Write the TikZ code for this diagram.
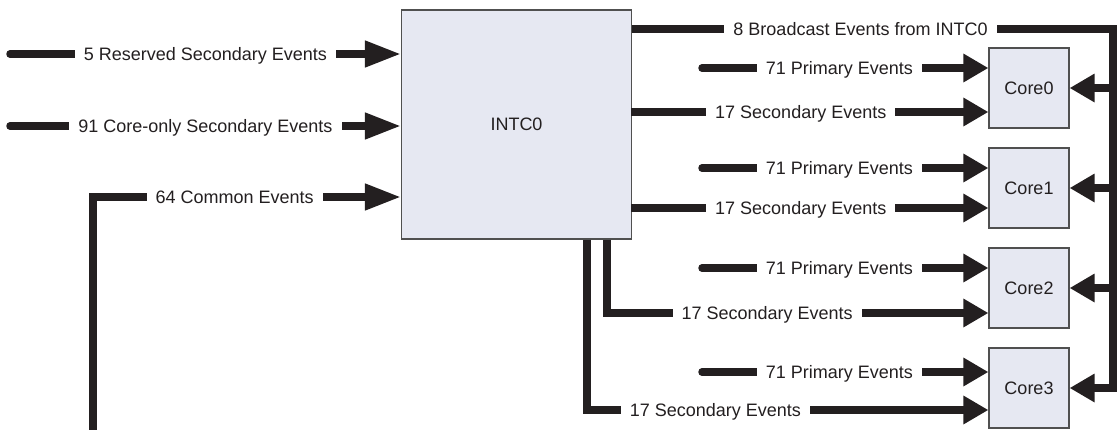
\documentclass[tikz,border=0pt]{standalone}
\usepackage{fontspec}
\setmainfont{Liberation Sans}
\usepackage{xcolor}
\usetikzlibrary{arrows.meta,positioning}
\definecolor{ink}{HTML}{231F20}
\definecolor{boxfill}{HTML}{E6E8F2}
\definecolor{boxline}{HTML}{505050}

\begin{document}
\begin{tikzpicture}[x=1pt, y=-1pt, node distance=18.8pt,
    blk/.style={rectangle, draw=boxline, line width=1.2pt, fill=boxfill, text=ink, font=\fontsize{18}{20}\selectfont},
    sig/.style={line width=7.5pt, draw=ink, -{Triangle[length=25pt,width=27pt]}},
    insig/.style={line width=7.5pt, draw=ink, -{Triangle[length=36pt,width=25pt]}},
    lbl/.style={fill=white, text=ink, inner xsep=9pt, inner ysep=2pt, text height=13pt, text depth=0pt, font=\fontsize{18}{20}\selectfont}]
    \useasboundingbox (0,0) rectangle (1117,429);

    \node [blk, minimum width=230pt, minimum height=229pt] (intc) at (516.5,124.5) {INTC0};
    \node [blk, minimum size=80pt] (core0) at (1029,88) {Core0};
    \node [blk, minimum size=80pt, below=of core0] (core1) {Core1};
    \node [blk, minimum size=80pt, below=of core1] (core2) {Core2};
    \node [blk, minimum size=80pt, below=of core2] (core3) {Core3};

    % events into INTC0
    \coordinate (r5) at (10,54);
    \coordinate (r91) at (10,126);
    \coordinate (c64) at (93,440);
    \coordinate (k64) at (93,197);
    \draw [insig, line cap=round] (r5) -- node[lbl] {5 Reserved Secondary Events} (r5 -| intc.west);
    \draw [insig, line cap=round] (r91) -- node[lbl] {91 Core-only Secondary Events} (r91 -| intc.west);
    \draw [insig] (c64) -- (k64) -- node[lbl, pos=.46] {64 Common Events} (k64 -| intc.west);

    % broadcast bus
    \coordinate (bc) at (1113,29);
    \draw [sig] (intc.east |- bc) -- node[lbl, pos=.475] {8 Broadcast Events from INTC0} (bc) -- (bc |- core3.east) -- (core3.east);
    \draw [sig] (bc |- core0.east) -- (core0.east);
    \draw [sig] (bc |- core1.east) -- (core1.east);
    \draw [sig] (bc |- core2.east) -- (core2.east);

    % primary events
    \coordinate (p0) at (702,68);
    \coordinate (p1) at (702,168);
    \coordinate (p2) at (702,268);
    \coordinate (p3) at (702,372);
    \draw [sig, line cap=round] (p0) -- node[lbl, pos=.48] {71 Primary Events} (p0 -| core0.west);
    \draw [sig, line cap=round] (p1) -- node[lbl, pos=.48] {71 Primary Events} (p1 -| core1.west);
    \draw [sig, line cap=round] (p2) -- node[lbl, pos=.48] {71 Primary Events} (p2 -| core2.west);
    \draw [sig, line cap=round] (p3) -- node[lbl, pos=.48] {71 Primary Events} (p3 -| core3.west);

    % secondary events from INTC0
    \coordinate (s0) at (631,112);
    \coordinate (s1) at (631,208);
    \coordinate (t2) at (607,313);
    \coordinate (t3) at (587,410);
    \draw [sig] (s0) -- node[lbl, pos=.475] {17 Secondary Events} (s0 -| core0.west);
    \draw [sig] (s1) -- node[lbl, pos=.475] {17 Secondary Events} (s1 -| core1.west);
    \draw [sig] (intc.south -| t2) -- (t2) -- node[lbl, pos=.42] {17 Secondary Events} (t2 -| core2.west);
    \draw [sig] (intc.south -| t3) -- (t3) -- node[lbl, pos=.32] {17 Secondary Events} (t3 -| core3.west);
\end{tikzpicture}
\end{document}
